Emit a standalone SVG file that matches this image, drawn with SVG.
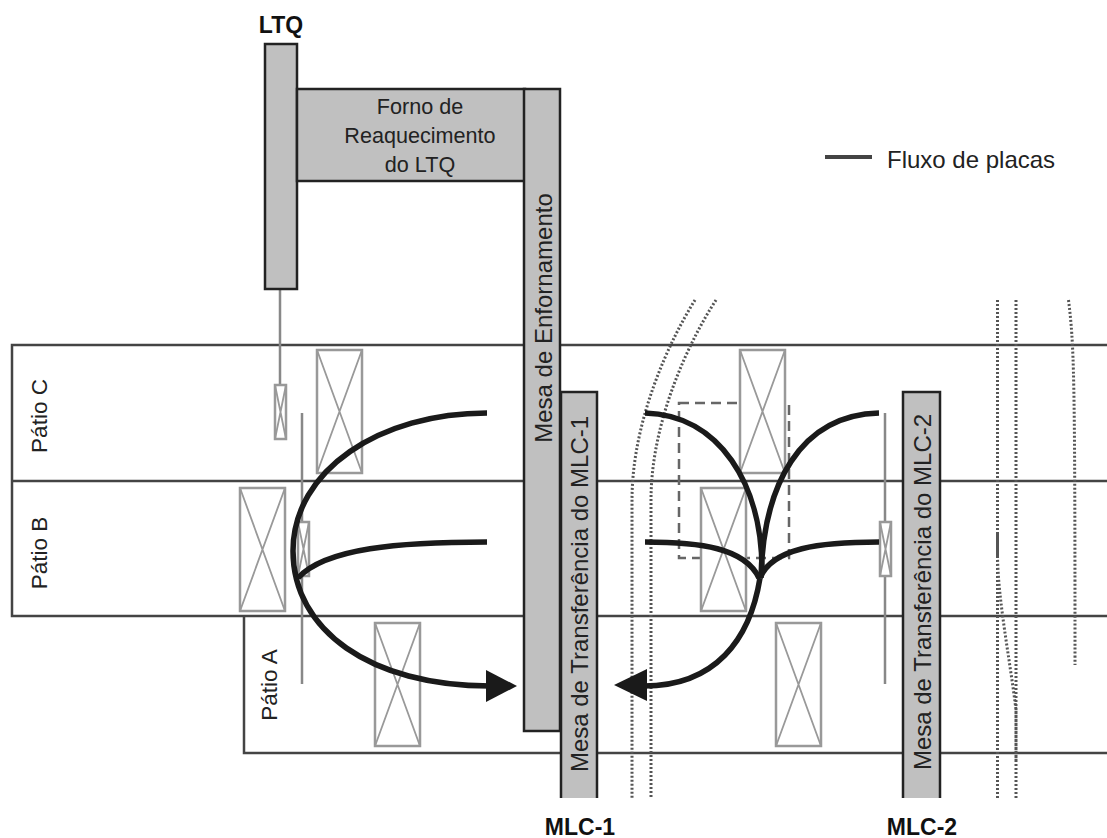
<svg xmlns="http://www.w3.org/2000/svg" width="1107" height="838" viewBox="0 0 1107 838">
<style>
text{font-family:"Liberation Sans",Arial,sans-serif;font-size:24px;fill:#222}
.f{font-size:21.6px}
.p{font-size:22.5px}
.b{font-weight:bold;font-size:23px;fill:#111}
.m{text-anchor:middle}
.yard{fill:none;stroke:#444;stroke-width:2.5}
.eq{fill:#c0c0c0;stroke:#222;stroke-width:2.5}
.x{fill:#fff;stroke:#999;stroke-width:2.5}
.xl{stroke:#999;stroke-width:1.8;fill:none}
.g{stroke:#888;stroke-width:2.5;fill:none}
.dot{stroke:#555;stroke-width:3;stroke-dasharray:2 2;fill:none}
.flow{stroke:#1a1a1a;stroke-width:5.5;fill:none}
</style>
<defs>
<g id="bx"><rect class="x" x="0" y="0" width="45" height="123"/><path class="xl" d="M0 0L45 123M45 0L0 123"/></g>
<g id="sx"><rect class="x" x="0" y="0" width="11" height="54"/><path class="xl" d="M0 0L11 54M11 0L0 54"/></g>
</defs>
<g id="yards">
<path class="yard" d="M1107 345H12V616H1107M12 481H1107M244 616V753H1107"/>
<text class="p m" transform="translate(47 416) rotate(-90)">Pátio C</text>
<text class="p m" transform="translate(47 553) rotate(-90)">Pátio B</text>
<text class="p m" transform="translate(277 685) rotate(-90)">Pátio A</text>
</g>
<g id="rails">
<path class="g" d="M280 289V385M302 413V684M885 413V684"/>
<path class="dot" d="M695 300C670 340 632 420 632 500V798M716 300C690 340 651 420 651 500V798"/>
<path class="dot" d="M997.5 300V798M1016 300V798M997.5 556C998 600 1010 660 1016 710V760M1068.500 300C1074 345 1075 370 1075 665"/>
<path d="M997.500 532V556" stroke="#555" stroke-width="3" fill="none"/>
<rect x="679" y="403" width="110" height="155" fill="none" stroke="#666" stroke-width="2.500" stroke-dasharray="10 6"/>
</g>
<g id="cranes">
<use href="#bx" x="317" y="350"/><use href="#bx" x="240" y="488"/><use href="#bx" x="375" y="623"/>
<use href="#bx" x="740" y="350"/><use href="#bx" x="701" y="488"/><use href="#bx" x="776" y="623"/>
<use href="#sx" x="275" y="385"/><use href="#sx" x="298" y="522"/><use href="#sx" x="880" y="522"/>
</g>
<g id="ltq"><rect class="eq" x="265" y="44" width="32" height="245"/><text class="b m" x="281" y="33">LTQ</text></g>
<g id="forno"><rect class="eq" x="297" y="89" width="228" height="92"/>
<text class="f m" x="420" y="114">Forno de</text><text class="f m" x="420" y="143">Reaquecimento</text><text class="f m" x="420" y="172">do LTQ</text></g>
<g id="enfornamento"><rect class="eq" x="524" y="89" width="36" height="642"/><text class="m" transform="translate(552 318) rotate(-90)">Mesa de Enfornamento</text></g>
<g id="mlc1"><path class="eq" d="M561 798V392H597V798"/><text class="m" transform="translate(588 594) rotate(-90)">Mesa de Transferência do MLC-1</text><text class="b m" x="580" y="835">MLC-1</text></g>
<g id="mlc2"><path class="eq" d="M903 798V392H940V798"/><text class="m" transform="translate(931 592) rotate(-90)">Mesa de Transferência do MLC-2</text><text class="b m" x="922" y="835">MLC-2</text></g>
<g id="legend"><path d="M825 157H872" stroke="#444" stroke-width="4"/><text x="887" y="168">Fluxo de placas</text></g>
<g id="connectors">
<path class="flow" d="M487 413C380 413 293 470 293 551C293 630 370 686 490 686"/>
<path class="flow" d="M487 542C400 542 325 548 298 578"/>
<path class="flow" d="M645 413C720 415 762 485 762 570"/>
<path class="flow" d="M879 413C800 415 763 485 761 578"/>
<path class="flow" d="M645 542C700 542 745 548 759 578"/>
<path class="flow" d="M879 542C820 542 772 548 760 578"/>
<path class="flow" d="M760 578C750 640 715 686 644 686"/>
<path d="M486 670L517 686L486 702Z" fill="#1a1a1a"/>
<path d="M647 669L614 685L647 701Z" fill="#1a1a1a"/>
</g>
</svg>
